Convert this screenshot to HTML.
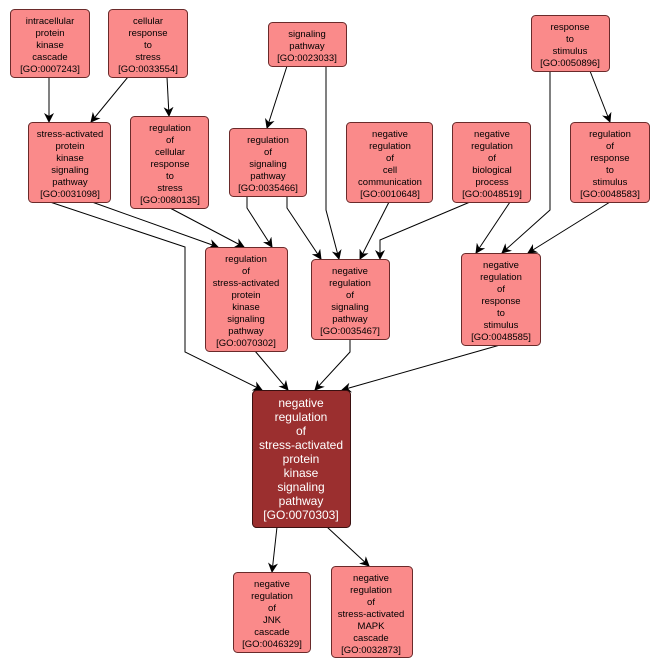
<!DOCTYPE html>
<html><head><meta charset="utf-8"><style>
html,body{margin:0;padding:0;background:#fff;}
svg{display:block;font-family:"Liberation Sans",sans-serif;}
.n{fill:#fa8a8a;stroke:#6a2a2a;stroke-width:1;}
.t{font-size:9.5px;fill:#000;text-anchor:middle;}
.m{font-size:12px;fill:#fff;text-anchor:middle;}
.e{fill:none;stroke:#000;stroke-width:1;}
</style></head><body>
<svg width="660" height="669" viewBox="0 0 660 669">
<defs><marker id="a" markerWidth="10" markerHeight="10" refX="9" refY="5" orient="auto" markerUnits="userSpaceOnUse"><path d="M0,0 L10,5 L0,10 L3,5 z" fill="#000"/></marker></defs>
<g class="e" marker-end="url(#a)">
<path d="M49,77 L49,122"/>
<path d="M128,77 L91,122"/>
<path d="M167,77 L169,116"/>
<path d="M287,66 L267,128"/>
<path d="M326,66 L326,210 L339,259"/>
<path d="M50,202 L185,247 L185,352 L262,390"/>
<path d="M92,202 L218,247"/>
<path d="M170,208 L244,247"/>
<path d="M247,197 L247,208 L272,247"/>
<path d="M287,197 L287,208 L321,259"/>
<path d="M389,202 L360,259"/>
<path d="M470,202 L380,240 L380,259"/>
<path d="M510,202 L476,253"/>
<path d="M550,71 L550,210 L502,253"/>
<path d="M590,71 L610,122"/>
<path d="M610,202 L528,253"/>
<path d="M255,351 L288,390"/>
<path d="M350,339 L350,352 L315,390"/>
<path d="M500,345 L342,390"/>
<path d="M277,527 L272,572"/>
<path d="M327,527 L369,566"/>
</g>
<rect class="n" x="10.5" y="9.5" width="79" height="68" rx="4"/>
<text class="t"><tspan x="50" y="24">intracellular</tspan><tspan x="50" y="36">protein</tspan><tspan x="50" y="48">kinase</tspan><tspan x="50" y="60">cascade</tspan><tspan x="50" y="72">[GO:0007243]</tspan></text>
<rect class="n" x="108.5" y="9.5" width="79" height="68" rx="4"/>
<text class="t"><tspan x="148" y="24">cellular</tspan><tspan x="148" y="36">response</tspan><tspan x="148" y="48">to</tspan><tspan x="148" y="60">stress</tspan><tspan x="148" y="72">[GO:0033554]</tspan></text>
<rect class="n" x="268.5" y="22.5" width="78" height="44" rx="4"/>
<text class="t"><tspan x="307" y="37">signaling</tspan><tspan x="307" y="49">pathway</tspan><tspan x="307" y="61">[GO:0023033]</tspan></text>
<rect class="n" x="531.5" y="15.5" width="78" height="56" rx="4"/>
<text class="t"><tspan x="570" y="30">response</tspan><tspan x="570" y="42">to</tspan><tspan x="570" y="54">stimulus</tspan><tspan x="570" y="66">[GO:0050896]</tspan></text>
<rect class="n" x="28.5" y="122.5" width="82" height="80" rx="4"/>
<text class="t"><tspan x="70" y="137">stress-activated</tspan><tspan x="70" y="149">protein</tspan><tspan x="70" y="161">kinase</tspan><tspan x="70" y="173">signaling</tspan><tspan x="70" y="185">pathway</tspan><tspan x="70" y="197">[GO:0031098]</tspan></text>
<rect class="n" x="130.5" y="116.5" width="78" height="92" rx="4"/>
<text class="t"><tspan x="170" y="131">regulation</tspan><tspan x="170" y="143">of</tspan><tspan x="170" y="155">cellular</tspan><tspan x="170" y="167">response</tspan><tspan x="170" y="179">to</tspan><tspan x="170" y="191">stress</tspan><tspan x="170" y="203">[GO:0080135]</tspan></text>
<rect class="n" x="229.5" y="128.5" width="77" height="68" rx="4"/>
<text class="t"><tspan x="268" y="143">regulation</tspan><tspan x="268" y="155">of</tspan><tspan x="268" y="167">signaling</tspan><tspan x="268" y="179">pathway</tspan><tspan x="268" y="191">[GO:0035466]</tspan></text>
<rect class="n" x="346.5" y="122.5" width="86" height="80" rx="4"/>
<text class="t"><tspan x="390" y="137">negative</tspan><tspan x="390" y="149">regulation</tspan><tspan x="390" y="161">of</tspan><tspan x="390" y="173">cell</tspan><tspan x="390" y="185">communication</tspan><tspan x="390" y="197">[GO:0010648]</tspan></text>
<rect class="n" x="452.5" y="122.5" width="78" height="80" rx="4"/>
<text class="t"><tspan x="492" y="137">negative</tspan><tspan x="492" y="149">regulation</tspan><tspan x="492" y="161">of</tspan><tspan x="492" y="173">biological</tspan><tspan x="492" y="185">process</tspan><tspan x="492" y="197">[GO:0048519]</tspan></text>
<rect class="n" x="570.5" y="122.5" width="79" height="80" rx="4"/>
<text class="t"><tspan x="610" y="137">regulation</tspan><tspan x="610" y="149">of</tspan><tspan x="610" y="161">response</tspan><tspan x="610" y="173">to</tspan><tspan x="610" y="185">stimulus</tspan><tspan x="610" y="197">[GO:0048583]</tspan></text>
<rect class="n" x="205.5" y="247.5" width="82" height="104" rx="4"/>
<text class="t"><tspan x="246" y="262">regulation</tspan><tspan x="246" y="274">of</tspan><tspan x="246" y="286">stress-activated</tspan><tspan x="246" y="298">protein</tspan><tspan x="246" y="310">kinase</tspan><tspan x="246" y="322">signaling</tspan><tspan x="246" y="334">pathway</tspan><tspan x="246" y="346">[GO:0070302]</tspan></text>
<rect class="n" x="311.5" y="259.5" width="78" height="80" rx="4"/>
<text class="t"><tspan x="350" y="274">negative</tspan><tspan x="350" y="286">regulation</tspan><tspan x="350" y="298">of</tspan><tspan x="350" y="310">signaling</tspan><tspan x="350" y="322">pathway</tspan><tspan x="350" y="334">[GO:0035467]</tspan></text>
<rect class="n" x="461.5" y="253.5" width="79" height="92" rx="4"/>
<text class="t"><tspan x="501" y="268">negative</tspan><tspan x="501" y="280">regulation</tspan><tspan x="501" y="292">of</tspan><tspan x="501" y="304">response</tspan><tspan x="501" y="316">to</tspan><tspan x="501" y="328">stimulus</tspan><tspan x="501" y="340">[GO:0048585]</tspan></text>
<rect x="252.5" y="390.5" width="98" height="137" rx="4" fill="#9b2f2f" stroke="#3a1010"/>
<text class="m"><tspan x="301" y="407">negative</tspan><tspan x="301" y="421">regulation</tspan><tspan x="301" y="435">of</tspan><tspan x="301" y="449">stress-activated</tspan><tspan x="301" y="463">protein</tspan><tspan x="301" y="477">kinase</tspan><tspan x="301" y="491">signaling</tspan><tspan x="301" y="505">pathway</tspan><tspan x="301" y="519">[GO:0070303]</tspan></text>
<rect class="n" x="233.5" y="572.5" width="77" height="80" rx="4"/>
<text class="t"><tspan x="272" y="587">negative</tspan><tspan x="272" y="599">regulation</tspan><tspan x="272" y="611">of</tspan><tspan x="272" y="623">JNK</tspan><tspan x="272" y="635">cascade</tspan><tspan x="272" y="647">[GO:0046329]</tspan></text>
<rect class="n" x="331.5" y="566.5" width="81" height="91" rx="4"/>
<text class="t"><tspan x="371" y="581">negative</tspan><tspan x="371" y="593">regulation</tspan><tspan x="371" y="605">of</tspan><tspan x="371" y="617">stress-activated</tspan><tspan x="371" y="629">MAPK</tspan><tspan x="371" y="641">cascade</tspan><tspan x="371" y="653">[GO:0032873]</tspan></text>
</svg>
</body></html>
